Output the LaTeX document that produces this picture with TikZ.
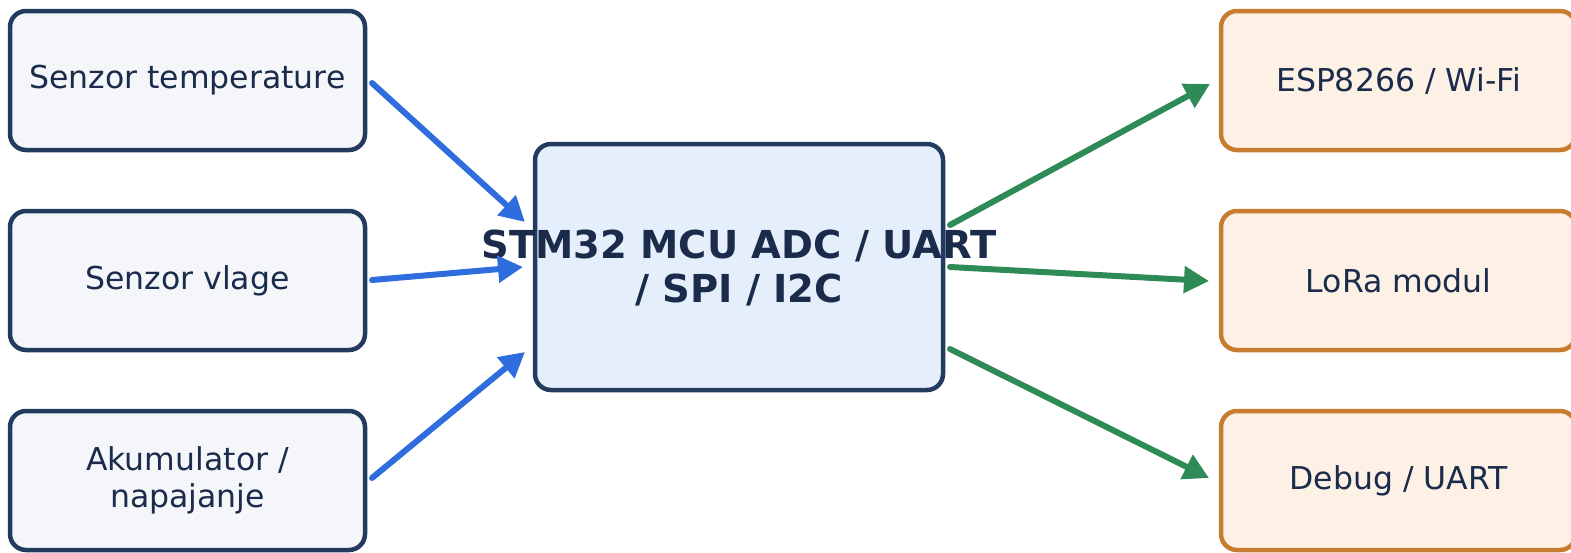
\documentclass[tikz,border=0pt]{standalone}
\usepackage{fontspec}
\setmainfont{DejaVu Sans}
\usetikzlibrary{arrows.meta}
\definecolor{navy}{HTML}{223B5E}
\definecolor{txt}{HTML}{1B2B4B}
\definecolor{leftfill}{HTML}{F4F6FA}
\definecolor{midfill}{HTML}{E5EFFC}
\definecolor{rightfill}{HTML}{FDF0E4}
\definecolor{orng}{HTML}{C67D30}
\definecolor{blu}{HTML}{2F6CDD}
\definecolor{grn}{HTML}{2E8A56}
\begin{document}
\begin{tikzpicture}[x=1pt,y=-1pt,
  inbox/.style={draw=navy,fill=leftfill,line width=4.5pt,rounded corners=16pt,minimum width=355pt,minimum height=139pt,text=txt,font=\fontsize{31.5}{37}\selectfont,align=center,inner sep=0pt},
  outbox/.style={inbox,draw=orng,fill=rightfill},
  mcu/.style={draw=navy,fill=midfill,line width=4.5pt,rounded corners=16pt,minimum width=408pt,minimum height=246pt,inner sep=0pt},
  inarrow/.style={draw=blu,line width=6pt,line cap=round,-{Triangle[length=25pt,width=26pt]}},
  outarrow/.style={inarrow,draw=grn}]
\useasboundingbox (0,0) rectangle (1571,552);
\begin{scope}
\clip (0,0) rectangle (1571,552);
\node[inbox] (t) at (187.5,80.5) {Senzor temperature};
\node[inbox] (v) at (187.5,280.5) {Senzor vlage};
\node[inbox] (a) at (187.5,480.5) {Akumulator /\\napajanje};
\node[mcu] (m) at (739,267) {};
\node[outbox] (e) at (1398.5,80.5) {ESP8266 / Wi-Fi};
\node[outbox] (l) at (1398.5,280.5) {LoRa modul};
\node[outbox] (d) at (1398.5,480.5) {Debug / UART};
\node[text=txt,font=\bfseries\fontsize{38.5}{43.5}\selectfont,align=center] (mt) at (739,268) {STM32 MCU ADC / UART\\/ SPI / I2C};
\coordinate (ti) at (372,83);
\coordinate (vi) at (372,280);
\coordinate (ai) at (372,478);
\coordinate (mt1) at (525,222);
\coordinate (mt2) at (523,267);
\coordinate (mt3) at (525,352);
\coordinate (mo1) at (950,225);
\coordinate (mo2) at (950,267);
\coordinate (mo3) at (950,349);
\coordinate (eo) at (1210,84);
\coordinate (lo) at (1209,281);
\coordinate (do) at (1209,478);
\draw[inarrow] (ti) -- (mt1);
\draw[inarrow] (vi) -- (mt2);
\draw[inarrow] (ai) -- (mt3);
\draw[outarrow] (mo1) -- (eo);
\draw[outarrow] (mo2) -- (lo);
\draw[outarrow] (mo3) -- (do);
\end{scope}
\end{tikzpicture}
\end{document}
